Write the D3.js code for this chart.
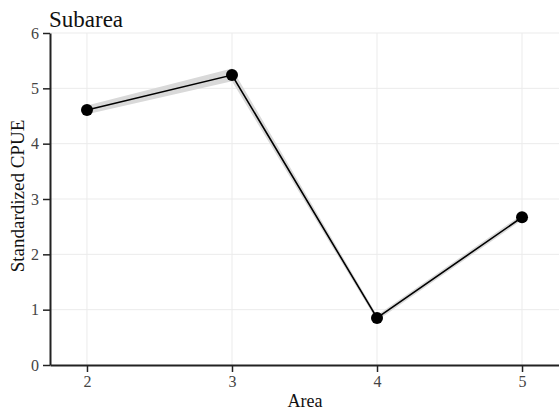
<!DOCTYPE html>
<html><head><meta charset="utf-8">
<script src="https://cdn.jsdelivr.net/npm/d3@7"></script>
<style>body{margin:0;background:#fff}svg{display:block}text{font-family:"Liberation Serif","Times New Roman",serif}</style>
</head><body><svg id="c" width="559" height="412"></svg>
<script>
const areas = [2, 3, 4, 5];
const cpue = [4.61, 5.24, 0.85, 2.67];
const lower = [4.53, 5.13, 0.80, 2.62];
const upper = [4.69, 5.36, 0.90, 2.72];
const yTicks = [0, 1, 2, 3, 4, 5, 6];
const xTicks = [2, 3, 4, 5];

const svg = d3.select("#c");
const x = d3.scaleLinear().domain([1.745, 5.255]).range([50, 559]);
const y = d3.scaleLinear().domain([0, 6]).range([365, 33]);

const grid = svg.append("g");
grid.selectAll("line.h").data(yTicks.slice(1)).join("line")
  .attr("x1", 50).attr("x2", 559).attr("y1", d => y(d)).attr("y2", d => y(d))
  .attr("stroke", "#ebebeb").attr("stroke-width", 1);
grid.selectAll("line.v").data(xTicks).join("line")
  .attr("y1", 33).attr("y2", 365).attr("x1", d => x(d)).attr("x2", d => x(d))
  .attr("stroke", "#ebebeb").attr("stroke-width", 1);

const data = areas.map((a, i) => ({a, v: cpue[i], lo: lower[i], hi: upper[i]}));
svg.append("path").datum(data)
  .attr("d", d3.area().x(d => x(d.a)).y0(d => y(d.lo)).y1(d => y(d.hi)))
  .attr("fill", "#d9d9d9");
svg.append("path").datum(data)
  .attr("d", d3.line().x(d => x(d.a)).y(d => y(d.v)))
  .attr("fill", "none").attr("stroke", "#000").attr("stroke-width", 1.6);
svg.selectAll("circle").data(data).join("circle")
  .attr("cx", d => x(d.a)).attr("cy", d => y(d.v)).attr("r", 6).attr("fill", "#000");

const xa = svg.append("g").attr("transform", "translate(0,365)")
  .call(d3.axisBottom(x).tickValues(xTicks).tickFormat(d3.format("d")).tickSize(7).tickPadding(4).tickSizeOuter(0));
const ya = svg.append("g").attr("transform", "translate(50,0)")
  .call(d3.axisLeft(y).tickValues(yTicks).tickFormat(d3.format("d")).tickSize(7).tickPadding(4).tickSizeOuter(0));
[xa, ya].forEach(g => {
  g.select(".domain").attr("stroke", "#222").attr("stroke-width", 2);
  g.selectAll(".tick line").attr("stroke", "#222").attr("stroke-width", 1.5);
  g.selectAll(".tick text").attr("font-family", "Liberation Serif").attr("font-size", 16).attr("fill", "#444");
});

svg.append("text").attr("x", 49).attr("y", 27).attr("font-size", 23).attr("fill", "#111").text("Subarea");
svg.append("text").attr("x", 305).attr("y", 407).attr("text-anchor", "middle").attr("font-size", 18).attr("fill", "#111").text("Area");
svg.append("text").attr("transform", "translate(24,196) rotate(-90)").attr("text-anchor", "middle")
  .attr("font-size", 19).attr("fill", "#111").text("Standardized CPUE");
</script></body></html>
